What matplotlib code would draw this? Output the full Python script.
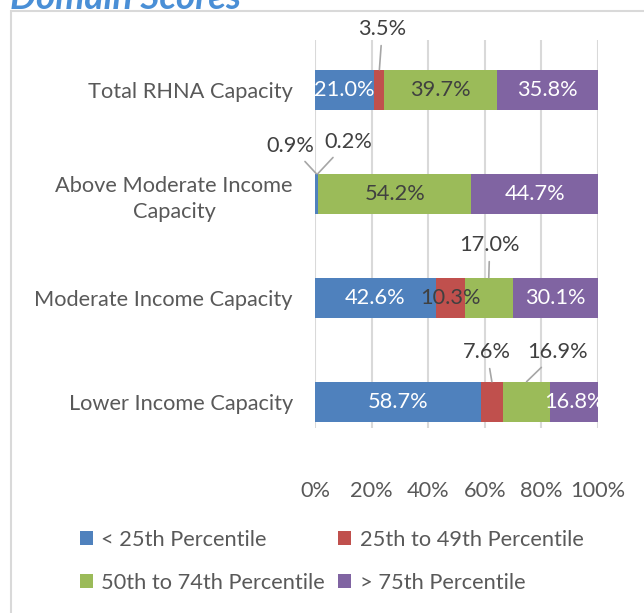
import matplotlib.pyplot as plt
from matplotlib.patches import Rectangle

plt.rcParams['font.family'] = ['Lato', 'DejaVu Sans']

# data (percent)
categories = ['Total RHNA Capacity', 'Above Moderate Income\nCapacity',
              'Moderate Income Capacity', 'Lower Income Capacity']
series = ['< 25th Percentile', '25th to 49th Percentile',
          '50th to 74th Percentile', '> 75th Percentile']
p25 = [21.0, 0.9, 42.6, 58.7]
p25_49 = [3.5, 0.2, 10.3, 7.6]
p50_74 = [39.7, 54.2, 17.0, 16.9]
p75 = [35.8, 44.7, 30.1, 16.8]
xticks = [0, 20, 40, 60, 80, 100]

colors = ['#4F81BD', '#C0504D', '#9BBB59', '#8064A2']
text_colors = ['white', '#404040', '#404040', 'white']
FS = 15.7

# labels placed outside with leader lines: (series idx, category idx) -> pixel offset
outside = {(1, 0): (3, -41), (0, 1): (-26, -28), (1, 1): (30, -32),
           (2, 2): (1, -33), (1, 3): (-5, -30), (2, 3): (31, -30)}

fig = plt.figure(figsize=(6.44, 6.13), dpi=100)
ax = fig.add_axes([315/644, 1-428/613, 283/644, 388/613])

ypos = [3, 2, 1, 0]
values = [p25, p25_49, p50_74, p75]
left = [0, 0, 0, 0]
bar_h = 0.39
for s, vals in enumerate(values):
    ax.barh(ypos, vals, left=left, height=bar_h, color=colors[s], label=series[s], zorder=3)
    for c, v in enumerate(vals):
        xc = left[c] + v / 2
        if (s, c) in outside:
            dx, dy = outside[(s, c)]
            ax.annotate(f'{v:.1f}%', xy=(xc, ypos[c] + bar_h / 2), xytext=(dx, -dy),
                        textcoords='offset pixels', ha='center', va='center',
                        fontsize=FS, color='#404040', zorder=5,
                        arrowprops=dict(arrowstyle='-', color='#a6a6a6', lw=1.2,
                                        shrinkA=3, shrinkB=0))
        else:
            ax.text(xc, ypos[c], f'{v:.1f}%', ha='center', va='center',
                    fontsize=FS, color=text_colors[s], zorder=5)
    left = [l + v for l, v in zip(left, vals)]

ax.set_xlim(0, 100)
ax.set_ylim(-0.25, 3.48)
ax.set_xticks(xticks)
ax.set_xticklabels([f'{t}%' for t in xticks])
ax.set_yticks(ypos)
ax.set_yticklabels(categories, multialignment='center', linespacing=1.35)
ax.tick_params(axis='both', length=0, labelsize=FS, labelcolor='#595959')
ax.tick_params(axis='x', pad=38)
ax.tick_params(axis='y', pad=16)
ax.grid(axis='x', color='#d9d9d9', lw=1.5, zorder=0)
for sp in ax.spines.values():
    sp.set_visible(False)

handles, labels = ax.get_legend_handles_labels()
order = [0, 2, 1, 3]
fig.legend([handles[i] for i in order], [labels[i] for i in order], ncol=2,
           loc='upper left', bbox_to_anchor=(60/644, 1-510/613), frameon=False,
           fontsize=FS, labelcolor='#595959', handlelength=0.6, handleheight=0.6,
           handletextpad=0.4, columnspacing=0.6, labelspacing=1.05)

# outer chart border and clipped title
fig.patches.append(Rectangle((11/644, -0.1), 1.2, 1-11/613+0.1, transform=fig.transFigure,
                             fill=False, edgecolor='#d9d9d9', lw=1.5))
fig.text(10/644, 1-9/613, 'Domain Scores', fontsize=26.5, fontweight='bold', style='italic',
         color='#4a8fd6', va='baseline', ha='left')

fig.savefig('out.png', dpi=100)
